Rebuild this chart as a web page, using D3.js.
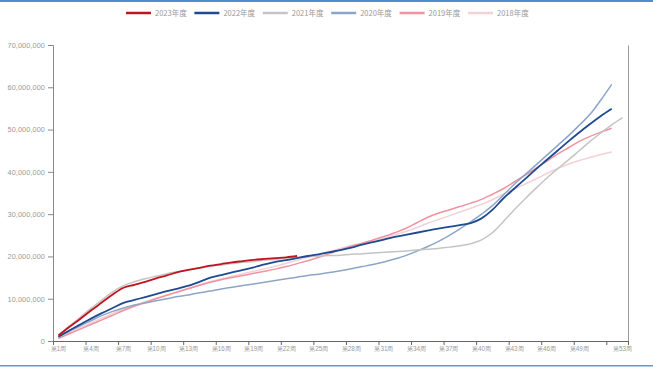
<!DOCTYPE html>
<html>
<head>
<meta charset="utf-8">
<script src="https://cdn.jsdelivr.net/npm/d3@7/dist/d3.min.js"></script>
<style>
  html, body { margin: 0; padding: 0; background: #fff; }
  svg { display: block; }
  .ax text { fill: #999; font-family: "Liberation Sans", Arial, sans-serif; }
</style>
</head>
<body>
<svg id="chart" width="653" height="367"></svg>
<script>
// Cumulative weekly totals per year (millions)
const weeks = d3.range(1, 54).map(w => `第${w}周`);
const years = ["2023年度", "2022年度", "2021年度", "2020年度", "2019年度", "2018年度"];
const colors = ["#c0141e", "#1e4a90", "#c4c4c4", "#8ea5c8", "#ef93a1", "#f0d2d8"];
const widths = [1.8, 1.8, 1.5, 1.5, 1.5, 1.5];

const s2023 = [1.3,3.3,5.2,7.2,9.1,11.0,12.6,13.3,14.0,14.8,15.5,16.3,16.8,17.3,17.8,18.2,18.6,18.9,19.2,19.4,19.6,19.8,20.1];
const s2022 = [1.0,2.5,3.9,5.3,6.6,7.8,9.0,9.7,10.4,11.1,11.8,12.4,13.1,14.0,15.0,15.6,16.2,16.8,17.4,18.1,
               18.7,19.1,19.6,20.1,20.5,21.0,21.5,22.1,22.8,23.4,24.0,24.6,25.1,25.6,26.1,26.6,27.0,27.4,27.9,29.0,
               31.0,33.7,36.0,38.3,40.6,42.8,45.0,47.2,49.3,51.3,53.2,54.9];
const s2021 = [1.4,3.5,5.6,7.7,9.7,11.6,13.1,14.0,14.7,15.3,15.9,16.4,16.9,17.3,17.7,18.0,18.3,18.6,18.8,19.1,
               19.3,19.6,19.8,20.0,20.1,20.2,20.3,20.5,20.6,20.8,21.0,21.1,21.3,21.5,21.7,21.9,22.2,22.5,23.0,23.9,
               25.6,28.2,31.0,33.6,36.1,38.5,40.7,42.8,45.0,47.2,49.2,51.1,52.8];
const s2020 = [1.0,2.3,3.6,4.8,6.0,7.0,7.8,8.5,9.0,9.5,10.0,10.5,10.9,11.4,11.8,12.3,12.7,13.1,13.5,13.9,
               14.3,14.7,15.1,15.5,15.8,16.2,16.6,17.1,17.6,18.1,18.7,19.4,20.2,21.2,22.3,23.5,24.9,26.5,28.2,30.0,
               32.0,34.5,37.0,39.3,41.6,43.9,46.2,48.5,51.0,53.6,57.0,60.7];
const s2019 = [0.6,1.7,2.8,3.9,5.0,6.1,7.2,8.2,9.1,10.0,10.8,11.6,12.4,13.2,13.9,14.5,15.0,15.5,16.0,16.5,
               17.0,17.6,18.3,19.0,19.8,20.7,21.6,22.4,23.1,23.9,24.7,25.6,26.6,27.9,29.2,30.2,31.0,31.8,32.6,33.5,
               34.7,36.0,37.6,39.2,40.8,42.5,44.2,45.7,47.2,48.4,49.4,50.3];
const s2018 = [0.8,2.0,3.2,4.3,5.4,6.5,7.5,8.4,9.3,10.1,10.9,11.7,12.5,13.3,14.0,14.7,15.3,15.9,16.5,17.1,
               17.7,18.4,19.1,19.8,20.5,21.2,21.9,22.6,23.1,23.6,24.3,25.1,25.9,26.8,27.8,28.7,29.6,30.5,31.4,32.3,
               33.4,34.7,35.9,37.1,38.3,39.6,40.8,41.8,42.7,43.4,44.1,44.7];
const series = [s2023, s2022, s2021, s2020, s2019, s2018];

const yTicks = d3.range(0, 70000001, 10000000);
const labelWeeks = [1,4,7,10,13,16,19,22,25,28,31,34,37,40,43,46,49,53];

const svg = d3.select("#chart");
const W = 653, H = 367;
const m = { left: 53, right: 628, top: 45, bottom: 341 };

// frame strips
svg.append("rect").attr("x", 0).attr("y", 0).attr("width", W).attr("height", 2).attr("fill", "#4a8fd3");
svg.append("rect").attr("x", 0).attr("y", 365).attr("width", W).attr("height", 1.5).attr("fill", "#5b9bd8");

const x = d3.scaleBand().domain(weeks).range([m.left, m.right]).paddingInner(0).paddingOuter(0);
const xEdge = d3.scaleLinear().domain([0, weeks.length]).range([m.left, m.right]);
const y = d3.scaleLinear().domain([0, 70000000]).range([m.bottom, m.top]);
const cx = i => x(weeks[i]) + x.bandwidth() / 2;

// y axis (left)
const gy = svg.append("g").attr("class", "ax").attr("transform", `translate(${m.left},0)`)
  .call(d3.axisLeft(y).tickValues(yTicks).tickSize(5).tickPadding(3).tickFormat(d3.format(",")));
gy.selectAll("text").attr("font-size", 7.3).attr("fill", "#a8a8a8").attr("letter-spacing", 0.1);
gy.selectAll("line, path").attr("stroke", "#888");

// right side axis line
svg.append("g").attr("class", "ax").attr("transform", `translate(${m.right},0)`)
  .call(d3.axisRight(y).tickValues([]).tickSizeOuter(0))
  .selectAll("path").attr("stroke", "#999");

// x axis: ticks on week boundaries, labels centred in week bands
const gx = svg.append("g").attr("class", "ax").attr("transform", `translate(0,${m.bottom})`)
  .call(d3.axisBottom(xEdge).tickValues(d3.range(0, 52, 3).concat([53])).tickSize(4).tickSizeOuter(0).tickFormat(""));
gx.selectAll("line, path").attr("stroke", "#666");

svg.append("g").attr("class", "ax").selectAll("text")
  .data(labelWeeks).join("text")
  .attr("x", d => cx(d - 1))
  .attr("y", 351)
  .attr("text-anchor", "middle")
  .attr("font-size", 6.3)
  .attr("font-family", "'Noto Sans CJK SC', sans-serif")
  .attr("fill", "#a0a0a0")
  .text(d => weeks[d - 1]);

// lines, oldest underneath
const line = d3.line().x((d, i) => cx(i)).y(d => y(d * 1e6)).curve(d3.curveMonotoneX);
const order = [5, 4, 3, 2, 1, 0];
svg.append("g").selectAll("path")
  .data(order).join("path")
  .attr("d", k => line(series[k]))
  .attr("fill", "none")
  .attr("stroke", k => colors[k])
  .attr("stroke-width", k => widths[k])
  .attr("stroke-linejoin", "round");

// legend
const lg = svg.append("g").selectAll("g").data(years).join("g")
  .attr("transform", (d, i) => `translate(${126 + i * 68.4},13)`);
lg.append("line").attr("x1", 0).attr("x2", 25).attr("y1", 0).attr("y2", 0)
  .attr("stroke", (d, i) => colors[i]).attr("stroke-width", 2.5);
lg.append("text").attr("x", 29).attr("y", 2.6)
  .attr("font-size", 7.5)
  .attr("font-family", "'Noto Sans CJK SC', sans-serif")
  .attr("fill", "#999")
  .text(d => d);
</script>
</body>
</html>
